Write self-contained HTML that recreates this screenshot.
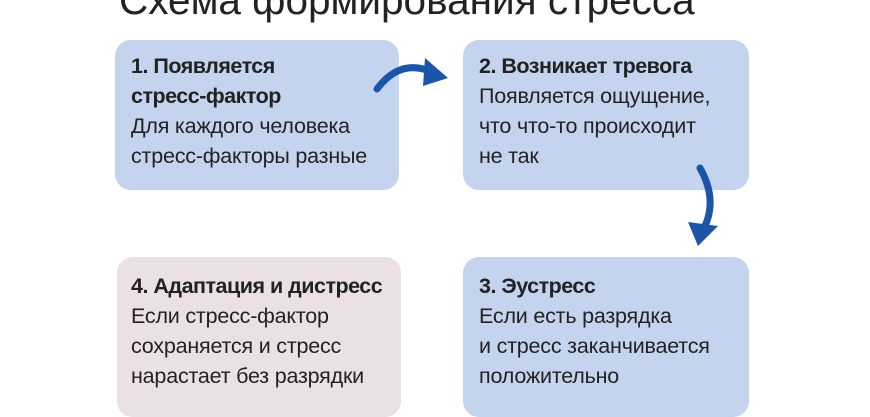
<!DOCTYPE html>
<html><head><meta charset="utf-8"><style>
body{margin:0;width:870px;height:400px;background:#fff;position:relative;overflow:hidden;font-family:"Liberation Sans","DejaVu Sans",sans-serif;color:#222}
.t{position:absolute;left:119px;top:-23px;font-size:40.5px;color:#222;white-space:nowrap}
.b{position:absolute;border-radius:16px;background:#c4d4ee;box-sizing:border-box;padding:11px 0 0 16px;font-size:21.5px;line-height:30px;white-space:nowrap;letter-spacing:-0.2px}
.b b{font-weight:bold;letter-spacing:-0.5px}
</style></head><body>
<div class="t">Схема формирования стресса</div>
<div class="b" style="left:115px;top:40px;width:284px;height:150px"><b>1. Появляется<br>стресс-фактор</b><br>Для каждого человека<br>стресс-факторы разные</div>
<div class="b" style="left:463px;top:40px;width:286px;height:150px"><b>2. Возникает тревога</b><br>Появляется ощущение,<br>что что-то происходит<br>не так</div>
<div class="b" style="left:117px;top:257px;width:284px;height:160px;background:#ebe1e3;padding:14px 0 0 14px"><b>4. Адаптация и дистресс</b><br>Если стресс-фактор<br>сохраняется и стресс<br>нарастает без разрядки</div>
<div class="b" style="left:463px;top:257px;width:286px;height:160px;padding-top:14px"><b>3. Эустресс</b><br>Если есть разрядка<br>и стресс заканчивается<br>положительно</div>
<svg width="870" height="400" style="position:absolute;left:0;top:0">
<path d="M377 89 Q400 58 432 72" stroke="#1a55a8" stroke-width="7" fill="none" stroke-linecap="round"/>
<polygon points="425,58 448,78 423,86" fill="#1a55a8"/>
<path d="M700 168 Q718 200 704 228" stroke="#1a55a8" stroke-width="7" fill="none" stroke-linecap="round"/>
<polygon points="688,222 718,226 698,246" fill="#1a55a8"/>
</svg>
</body></html>
